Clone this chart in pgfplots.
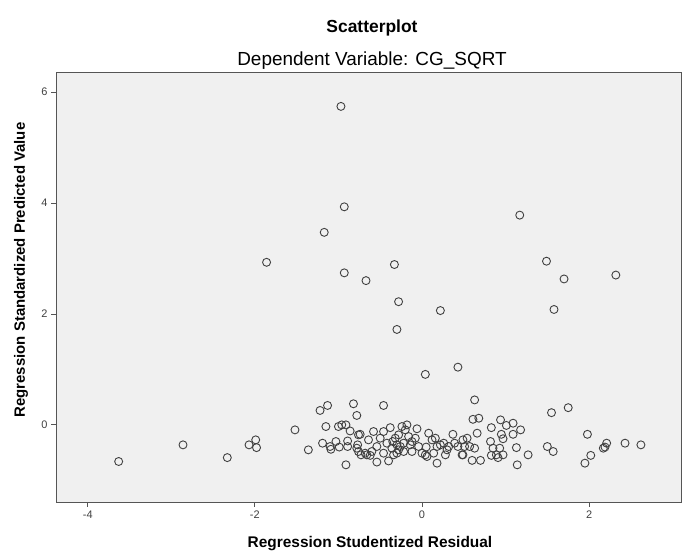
\documentclass[border=0pt]{standalone}
\usepackage{fontspec}
\setmainfont{Liberation Sans}
\usepackage{pgfplots}
\pgfplotsset{compat=1.18}
\usepackage{pgfplotstable}

\definecolor{plotbg}{HTML}{F0F0F0}
\definecolor{framegray}{HTML}{555555}
\definecolor{ticktext}{HTML}{404040}

% residual vs predicted
\pgfplotstableread{
x y
-0.97 5.74
-0.93 3.93
-1.17 3.47
1.17 3.78
-1.86 2.93
-0.93 2.74
-0.67 2.60
-0.33 2.89
-0.28 2.22
-0.30 1.72
0.22 2.06
1.49 2.95
1.70 2.63
2.32 2.70
1.58 2.08
0.04 0.91
0.43 1.04
-3.63 -0.66
-2.86 -0.36
-2.33 -0.59
-2.07 -0.36
-1.99 -0.27
-1.98 -0.41
-1.52 -0.09
-1.36 -0.45
-1.22 0.26
-1.13 0.35
-1.15 -0.03
-1.19 -0.33
-1.10 -0.39
-1.09 -0.44
-1.03 -0.30
-1.00 -0.03
-0.96 0.00
-0.91 0.00
-0.86 -0.11
-0.99 -0.40
-0.89 -0.29
-0.89 -0.39
-0.82 0.38
-0.78 0.17
-0.91 -0.72
-0.76 -0.18
-0.77 -0.36
-0.76 -0.48
-0.46 0.35
-0.74 -0.17
-0.64 -0.27
-0.58 -0.12
-0.54 -0.39
-0.60 -0.48
-0.68 -0.51
-0.73 -0.54
-0.62 -0.55
-0.50 -0.24
-0.46 -0.12
-0.38 -0.05
-0.42 -0.33
-0.36 -0.42
-0.32 -0.24
-0.28 -0.18
-0.24 -0.03
-0.18 0.00
-0.20 -0.09
-0.16 -0.21
-0.14 -0.36
-0.12 -0.48
-0.06 -0.07
-0.08 -0.24
-0.04 -0.39
0.00 -0.51
0.04 -0.54
0.08 -0.15
0.12 -0.27
0.16 -0.24
0.18 -0.39
0.22 -0.36
0.26 -0.33
0.30 -0.45
0.32 -0.39
0.37 -0.17
0.39 -0.33
0.43 -0.39
0.48 -0.54
0.18 -0.69
0.06 -0.57
-0.40 -0.65
-0.54 -0.67
-0.66 -0.54
-0.22 -0.48
-0.30 -0.51
-0.46 -0.51
-0.78 -0.42
-0.26 -0.39
-0.34 -0.54
0.14 -0.51
0.28 -0.54
0.49 -0.27
-0.35 -0.30
-0.30 -0.36
-0.22 -0.33
-0.12 -0.30
0.05 -0.40
-0.28 -0.45
0.63 0.45
0.61 0.10
0.68 0.12
0.66 -0.15
0.54 -0.24
0.51 -0.39
0.57 -0.39
0.63 -0.42
0.49 -0.54
0.60 -0.64
0.70 -0.64
0.83 -0.05
0.94 0.09
1.01 -0.01
1.09 0.03
1.18 -0.09
0.95 -0.17
0.97 -0.25
1.09 -0.17
0.82 -0.30
0.85 -0.42
0.93 -0.42
0.89 -0.54
0.83 -0.55
0.97 -0.54
0.91 -0.59
1.13 -0.41
1.27 -0.54
1.14 -0.72
1.50 -0.39
1.57 -0.48
1.55 0.22
1.75 0.31
1.98 -0.17
2.21 -0.33
2.17 -0.42
2.19 -0.40
2.43 -0.33
2.62 -0.36
2.02 -0.55
1.95 -0.69
}\resid

\begin{document}
\begin{tikzpicture}[x=1bp,y=1bp]
\path[use as bounding box] (-56,-52) rectangle (638,502);
\begin{axis}[
  at={(0,0)}, anchor=south west,
  scale only axis, width=625bp, height=430bp,
  xmin=-4.38, xmax=3.10, ymin=-1.39, ymax=6.36,
  axis background/.style={fill=plotbg},
  axis line style={framegray, line width=0.8pt},
  xtick={-4,-2,0,2}, ytick={0,2,4,6},
  tick align=outside, tick pos=left, major tick length=5bp,
  tick style={framegray, line width=0.8pt},
  ticklabel style={font=\fontsize{11}{13}\selectfont, text=ticktext},
  /pgf/number format/assume math mode=true,
]
\addplot[only marks, mark=o, mark size=4bp,
  mark options={draw=black!75, line width=0.9pt}] table {\resid};
\end{axis}
\node[font=\bfseries\fontsize{17.5}{20}\selectfont] at (316,474) {Scatterplot};
\node[font=\fontsize{19}{22}\selectfont] at (316,441) {Dependent Variable: CG\_SQRT};
\node[font=\bfseries\fontsize{15.5}{18}\selectfont] at (314,-42) {Regression Studentized Residual};
\node[font=\bfseries\fontsize{15}{18}\selectfont, rotate=90] at (-35,232) {Regression Standardized Predicted Value};
\end{tikzpicture}
\end{document}
